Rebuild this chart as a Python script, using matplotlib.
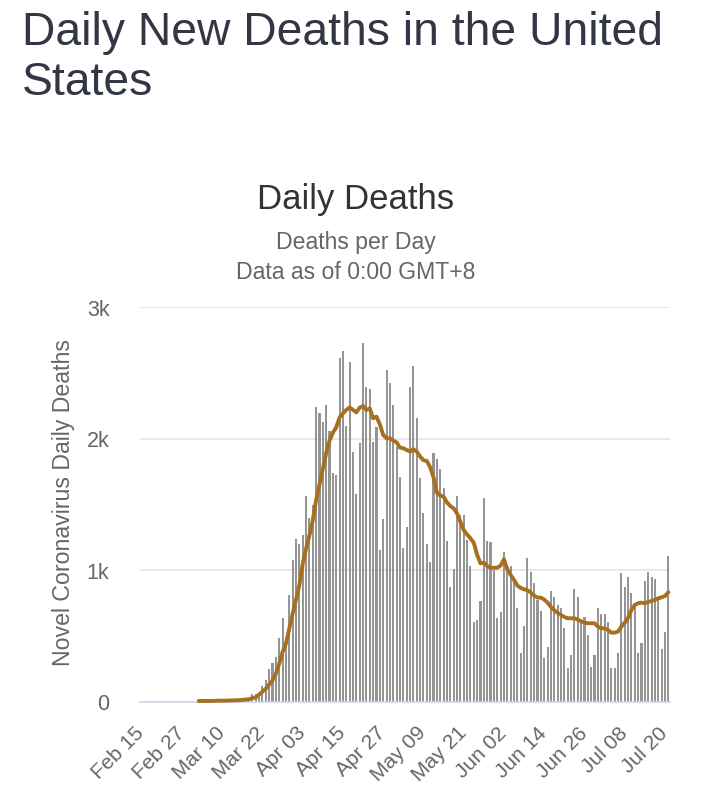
import matplotlib
matplotlib.use("Agg")
import matplotlib.pyplot as plt
from matplotlib.transforms import ScaledTranslation
import numpy as np

plt.rcParams['font.family'] = ['Liberation Sans', 'DejaVu Sans']

page_title = "Daily New Deaths in the United\nStates"
chart_title = "Daily Deaths"
subtitle = "Deaths per Day\nData as of 0:00 GMT+8"
y_label = "Novel Coronavirus Daily Deaths"

tick_labels = ["Feb 15", "Feb 27", "Mar 10", "Mar 22", "Apr 03", "Apr 15", "Apr 27",
               "May 09", "May 21", "Jun 02", "Jun 14", "Jun 26", "Jul 08", "Jul 20"]
tick_days = [0, 12, 24, 36, 48, 60, 72, 84, 96, 108, 120, 132, 144, 156]
y_ticks = [0, 1000, 2000, 3000]
y_tick_labels = ["0", "1k", "2k", "3k"]

daily_deaths = [
    0, 0, 0, 0, 0, 0, 0, 0, 0, 0, 0, 0, 0, 0, 1, 0, 1, 0, 4, 3, 2, 1, 2, 3, 4, 3, 8, 6, 9, 10, 12, 15, 22,
    63, 63, 38, 119, 164, 253, 298, 341, 488, 635, 488, 810, 1075, 1240, 1197, 1268, 1564, 1400, 1500,
    2243, 2197, 2126, 2255, 2058, 1737, 1724, 2610, 2668, 2100, 2580, 1900, 1580, 1965, 2724, 2390, 2375,
    1977, 2091, 1154, 1390, 2521, 2420, 2256, 1940, 1712, 1167, 1332, 2390, 2552, 2155, 1700, 1433, 1200,
    1063, 1889, 1843, 1770, 1623, 1225, 871, 1008, 1565, 1420, 1420, 1230, 1033, 610, 623, 770, 1547, 1225,
    1213, 1003, 641, 681, 1137, 1020, 1033, 927, 712, 375, 578, 1091, 990, 901, 775, 694, 332, 416, 843,
    800, 737, 712, 560, 256, 358, 856, 800, 610, 648, 509, 269, 358, 712, 666, 666, 605, 256, 256, 370,
    977, 871, 947, 830, 725, 370, 446, 919, 990, 947, 932, 775, 403, 535, 1109,
]

avg_first_day = 17
avg_deaths = [
    8, 8, 8, 8, 8, 9, 10, 10, 10, 11, 12, 13, 14, 16, 18, 21,
    30, 35, 56, 78, 101, 132, 164, 215, 291, 380, 443, 557, 670, 779, 885, 1050, 1164, 1265, 1379, 1534,
    1650, 1770, 1890, 1985, 2045, 2086, 2162, 2192, 2218, 2238, 2218, 2200, 2236, 2248, 2218, 2230, 2155,
    2167, 2109, 2028, 2003, 2003, 1985, 1972, 1932, 1927, 1914, 1902, 1919, 1902, 1864, 1836, 1831, 1783,
    1707, 1590, 1568, 1560, 1516, 1488, 1471, 1433, 1370, 1306, 1273, 1243, 1210, 1117, 1053, 1058, 1033,
    1018, 1020, 1020, 1036, 1084, 1008, 965, 927, 884, 866, 856, 848, 831, 808, 793, 793, 778, 755, 722,
    697, 676, 661, 646, 636, 636, 636, 626, 613, 603, 598, 598, 598, 573, 560, 560, 547, 527, 527, 535,
    573, 603, 638, 699, 737, 750, 755, 750, 760, 767, 775, 788, 795, 805, 833,
]

W, H = 726, 800
fig = plt.figure(figsize=(W / 100, H / 100), dpi=100, facecolor="white")
ax = fig.add_axes([140 / W, 1 - 702 / H, 530 / W, 395 / H])

days = np.arange(len(daily_deaths))
ax.bar(days, daily_deaths, width=0.62, color="#959595", linewidth=0, zorder=2)
ax.plot(avg_first_day + np.arange(len(avg_deaths)), avg_deaths, color="#a86f1e", lw=2.8,
        solid_capstyle="round", solid_joinstyle="round", zorder=3, clip_on=False)

ax.set_xlim(-0.5, len(daily_deaths) - 0.5)
ax.set_ylim(0, 3000)
ax.set_yticks(y_ticks, y_tick_labels)
ax.set_xticks(tick_days, tick_labels)
ax.tick_params(axis="y", length=0, pad=22, labelsize=15.5, labelcolor="#666666")
ax.tick_params(axis="x", length=0, pad=14, labelsize=15, labelcolor="#666666")

x_shift = ScaledTranslation(-7 / 100, -2 / 100, fig.dpi_scale_trans)
y_shift = ScaledTranslation(0, -3 / 100, fig.dpi_scale_trans)
for lab in ax.get_xticklabels():
    lab.set_rotation(45)
    lab.set_ha("right")
    lab.set_rotation_mode("anchor")
    lab.set_transform(lab.get_transform() + x_shift)
for lab in ax.get_yticklabels():
    lab.set_va("center")
    lab.set_transform(lab.get_transform() + y_shift)

ax.grid(axis="y", color="#e6e6e6", lw=1.3, zorder=1)
ax.set_axisbelow(True)
for s in ("top", "right", "left"):
    ax.spines[s].set_visible(False)
ax.spines["bottom"].set_color("#ccd6eb")
ax.spines["bottom"].set_linewidth(1.2)

fig.text(22 / W, 1 - 11 / H, page_title, fontsize=33.3, color="#333645", ha="left", va="top", linespacing=1.19)
fig.text(356 / W, 1 - 200 / H, chart_title, fontsize=25, color="#333333", ha="center", va="center")
fig.text(356 / W, 1 - 257.5 / H, subtitle, fontsize=16.6, color="#666666", ha="center", va="center", linespacing=1.37)
fig.text(64 / W, 1 - 503 / H, y_label, fontsize=16.7, color="#666666", rotation=90, ha="center", va="center")

fig.savefig("out.png", dpi=100)
